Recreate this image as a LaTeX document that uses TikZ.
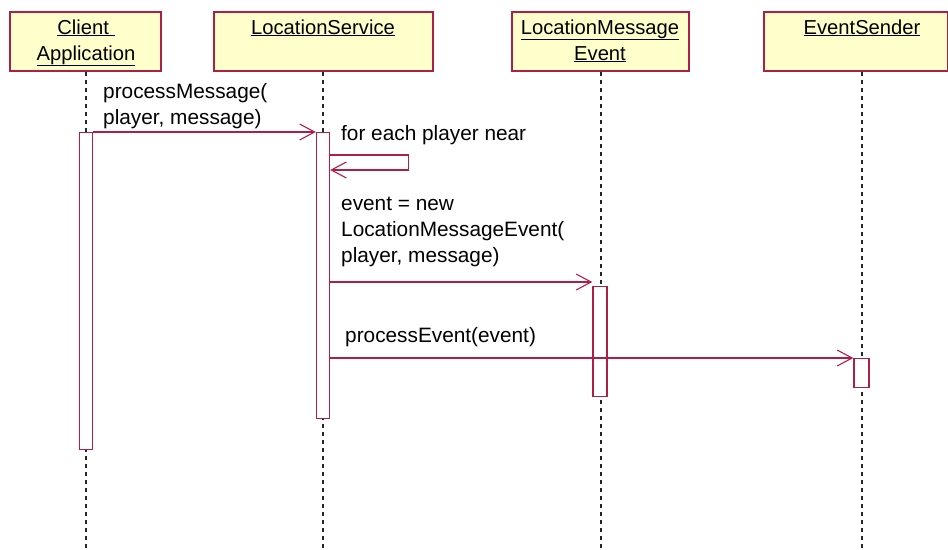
\documentclass[tikz,border=0pt]{standalone}
\usepackage{fontspec}
\setmainfont{Liberation Sans}
\usetikzlibrary{arrows.meta}
\definecolor{umlline}{RGB}{172,32,72}
\definecolor{umlfill}{RGB}{255,255,204}

\begin{document}
\begin{tikzpicture}[x=1pt,y=-1pt,
  objbox/.style={draw=umlline, fill=umlfill, line width=1.6pt, inner sep=0pt, anchor=north west},
  objtext/.style={inner sep=0pt, align=center, font=\fontsize{20.2}{26}\selectfont, anchor=base},
  bar/.style={draw=umlline, fill=white, line width=1.4pt, inner sep=0pt, minimum width=13pt, anchor=north},
  lifeline/.style={draw=black!85, line width=1.3pt, dash pattern=on 4pt off 4pt},
  msg/.style={draw=umlline, line width=1.2pt, -{Straight Barb[length=15pt, width=16pt, line width=1.1pt]}},
  msgtext/.style={inner sep=0pt, align=left, font=\fontsize{20.8}{26}\selectfont, anchor=base west}]

  \useasboundingbox (0,0) rectangle (948,549);

  % object heads
  \node[objbox, minimum width=151pt, minimum height=59pt] (ca) at (9,11) {};
  \node[objbox, minimum width=219pt, minimum height=59pt] (ls) at (213,11) {};
  \node[objbox, minimum width=177pt, minimum height=59pt] (lme) at (511,11) {};
  \node[objbox, minimum width=184pt, minimum height=59pt] (es) at (763,11) {};

  % names (base anchor sits on the last line)
  \node[objtext] (catext) at (86,60) {\underline{Client\ }\\\underline{Application}};
  \node[objtext] (lstext) at (323,34) {\underline{LocationService}};
  \node[objtext] (lmetext) at (600,60) {\underline{LocationMessage}\\\underline{Event}};
  \node[objtext] (estext) at (862,34) {\underline{EventSender}};

  % lifelines
  \coordinate (caend) at (86,549);
  \coordinate (lsend) at (323,549);
  \coordinate (lmeend) at (601,549);
  \coordinate (esend) at (862,549);
  \draw[lifeline] (ca.south -| caend) -- (caend);
  \draw[lifeline] (ls.south -| lsend) -- (lsend);
  \draw[lifeline] (lme.south -| lmeend) -- (lmeend);
  \draw[lifeline] (es.south -| esend) -- (esend);

  % activation bars
  \node[bar, minimum height=317pt] (cbar) at (86,132) {};
  \node[bar, minimum height=286pt] (sbar) at (323,132) {};
  \node[bar, minimum height=110pt, minimum width=14pt] (lbar) at (600,286) {};
  \node[bar, minimum height=29pt, minimum width=15pt] (ebar) at (861.5,358) {};

  % messages
  \draw[msg] (cbar.north east) -- (sbar.north west);
  \node[msgtext] (m1) at (103,124) {processMessage(\\player, message)};

  \draw[msg] ([yshift=-23pt]sbar.north east) -- ++(78,0) -- ++(0,15)
             -- ([yshift=-38pt]sbar.north east);
  \node[msgtext] (m2) at (341,140) {for each player near};

  \draw[msg] (sbar.east |- 0,282) -- (lbar.west |- 0,282);
  \node[msgtext] (m3) at (341,262) {event = new\\LocationMessageEvent(\\player, message)};

  \draw[msg] (sbar.east |- ebar.north) -- (ebar.north west);
  \node[msgtext] (m4) at (345,342) {processEvent(event)};
\end{tikzpicture}
\end{document}
